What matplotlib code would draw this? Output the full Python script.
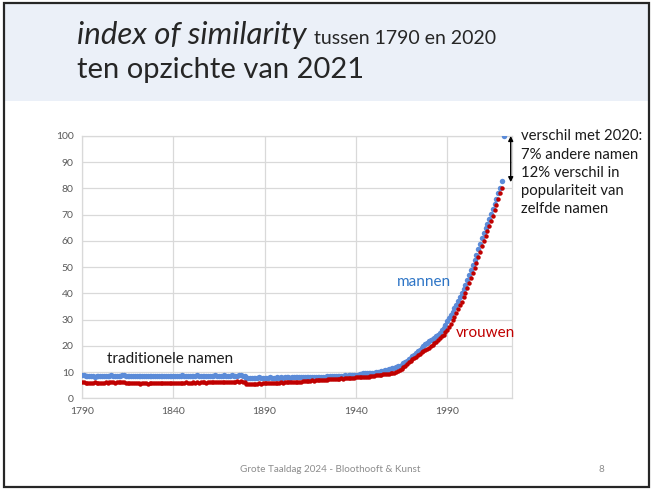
import numpy as np
import matplotlib
matplotlib.use("Agg")
import matplotlib.pyplot as plt
from matplotlib.patches import Rectangle

# index of similarity per year, relative to 2021
years_m = np.arange(1790, 2022)
mannen = [
    8.9, 8.7, 8.6, 8.5, 8.4, 8.5, 8.4, 8.3, 8.4, 8.5,
    8.4, 8.5, 8.6, 8.4, 8.5, 8.6, 8.7, 8.5, 8.6, 8.4,
    8.5, 8.6, 8.8, 8.7, 8.6, 8.5, 8.4, 8.5, 8.6, 8.5,
    8.4, 8.5, 8.6, 8.5, 8.4, 8.5, 8.6, 8.5, 8.4, 8.5,
    8.6, 8.5, 8.4, 8.5, 8.6, 8.5, 8.4, 8.5, 8.6, 8.5,
    8.4, 8.5, 8.6, 8.5, 8.6, 8.7, 8.5, 8.6, 8.5, 8.4,
    8.5, 8.6, 8.5, 8.7, 8.6, 8.5, 8.6, 8.5, 8.4, 8.5,
    8.6, 8.5, 8.6, 8.7, 8.5, 8.6, 8.5, 8.6, 8.7, 8.6,
    8.5, 8.6, 8.7, 8.6, 8.5, 8.6, 8.7, 8.8, 8.6, 8.5,
    7.9, 7.8, 7.9, 7.8, 7.9, 7.8, 7.9, 8.0, 7.9, 7.8,
    7.9, 7.8, 7.9, 8.0, 7.9, 7.8, 7.9, 8.0, 7.9, 8.0,
    7.9, 8.0, 8.1, 8.0, 7.9, 8.0, 8.1, 8.0, 8.1, 8.0,
    8.1, 8.0, 8.1, 8.2, 8.1, 8.2, 8.1, 8.2, 8.3, 8.2,
    8.2, 8.3, 8.2, 8.3, 8.4, 8.3, 8.4, 8.5, 8.4, 8.5,
    8.5, 8.6, 8.5, 8.6, 8.7, 8.6, 8.7, 8.8, 8.7, 8.8,
    8.9, 9.0, 9.1, 9.3, 9.5, 9.6, 9.5, 9.5, 9.6, 9.7,
    9.8, 9.9, 10.0, 10.1, 10.3, 10.4, 10.6, 10.8, 11.0, 11.2,
    11.5, 11.7, 11.9, 12.2, 12.5, 12.8, 13.3, 13.8, 14.3, 14.8,
    15.3, 16.0, 16.6, 17.2, 17.9, 18.5, 19.2, 19.9, 20.6, 21.2,
    21.7, 22.2, 22.7, 23.1, 23.6, 24.2, 25.0, 25.9, 26.9, 28.0,
    29.3, 30.5, 31.8, 33.0, 34.3, 35.6, 37.0, 38.5, 40.0, 41.6,
    43.3, 45.1, 47.0, 49.0, 50.8, 52.8, 54.8, 56.8, 58.9, 61.0,
    63.0, 64.8, 66.5, 68.3, 70.1, 72.0, 74.0, 76.0, 78.2, 80.3,
    82.7, 100.0,
]

years_v = np.arange(1790, 2021)
vrouwen = [
    6.3, 6.1, 6.0, 5.9, 6.0, 5.9, 6.0, 6.1, 6.0, 5.9,
    6.0, 5.9, 6.0, 6.1, 6.0, 6.1, 6.2, 6.1, 6.0, 6.1,
    6.2, 6.3, 6.2, 6.1, 6.0, 5.9, 5.8, 5.7, 5.8, 5.7,
    5.8, 5.7, 5.6, 5.7, 5.8, 5.7, 5.6, 5.7, 5.8, 5.7,
    5.8, 5.7, 5.8, 5.9, 5.8, 5.7, 5.8, 5.9, 5.8, 5.9,
    5.8, 5.9, 6.0, 5.9, 6.0, 5.9, 6.0, 6.1, 6.0, 5.9,
    6.0, 6.1, 6.0, 6.1, 6.0, 6.1, 6.2, 6.1, 6.0, 6.1,
    6.2, 6.1, 6.2, 6.1, 6.2, 6.3, 6.2, 6.1, 6.2, 6.3,
    6.2, 6.3, 6.4, 6.3, 6.4, 6.5, 6.4, 6.5, 6.4, 6.3,
    5.4, 5.5, 5.4, 5.5, 5.6, 5.5, 5.6, 5.7, 5.6, 5.7,
    5.8, 5.7, 5.8, 5.9, 5.8, 5.9, 6.0, 5.9, 6.0, 6.1,
    6.0, 6.1, 6.2, 6.1, 6.2, 6.3, 6.2, 6.3, 6.4, 6.3,
    6.4, 6.5, 6.6, 6.5, 6.6, 6.7, 6.8, 6.7, 6.8, 6.9,
    6.9, 7.0, 7.1, 7.0, 7.1, 7.2, 7.3, 7.2, 7.3, 7.4,
    7.4, 7.5, 7.6, 7.5, 7.6, 7.7, 7.8, 7.7, 7.8, 7.9,
    8.0, 8.1, 8.0, 8.1, 8.2, 8.1, 8.2, 8.3, 8.4, 8.5,
    8.6, 8.7, 8.8, 8.9, 9.0, 9.1, 9.2, 9.3, 9.4, 9.5,
    9.6, 9.8, 10.1, 10.4, 10.8, 11.2, 11.8, 12.4, 13.0, 13.7,
    14.4, 14.9, 15.4, 15.9, 16.5, 17.0, 17.5, 17.9, 18.4, 18.8,
    19.3, 19.9, 20.5, 21.0, 21.6, 22.2, 22.9, 23.6, 24.3, 25.1,
    26.0, 27.2, 28.4, 29.7, 31.1, 32.5, 33.9, 35.4, 36.9, 38.5,
    40.1, 42.0, 43.9, 45.8, 47.8, 49.7, 51.7, 53.7, 55.8, 57.9,
    59.9, 61.8, 63.7, 65.6, 67.5, 69.5, 71.6, 73.7, 75.9, 78.1,
    80.3,
]

x_ticks = [1790, 1840, 1890, 1940, 1990]
y_ticks = list(range(0, 101, 10))

plt.rcParams['font.family'] = ['Lato', 'DejaVu Sans']

W, H = 653, 490
fig = plt.figure(figsize=(W / 100, H / 100), dpi=100)
fig.patch.set_facecolor('white')

# slide title band and frame
fig.add_artist(Rectangle((5 / W, 1 - 101 / H), 643 / W, 97 / H, transform=fig.transFigure,
                         facecolor='#EBF0F8', edgecolor='none', zorder=0))
fig.add_artist(Rectangle((4 / W, 3 / H), 645 / W, 484 / H, transform=fig.transFigure,
                         facecolor='none', edgecolor='#262626', linewidth=1.6, zorder=5))

t1 = fig.text(77 / W, 1 - 44 / H, 'index of similarity', fontsize=22.5, style='italic',
              color='#262626', va='baseline')
fig.canvas.draw()
bb = t1.get_window_extent(fig.canvas.get_renderer())
fig.text((bb.x1 + 7) / W, 1 - 44 / H, 'tussen 1790 en 2020', fontsize=14, color='#262626',
         va='baseline')
fig.text(77 / W, 1 - 78 / H, 'ten opzichte van 2021', fontsize=21, color='#262626',
         va='baseline')

# chart
ax = fig.add_axes([82 / W, 1 - 398.3 / H, 430 / W, 262.3 / H])
ax.plot(years_m, mannen, 'o', color='#5B8BD8', markersize=3.9, markeredgewidth=0, zorder=3)
ax.plot(years_v, vrouwen, 'o', color='#C00000', markersize=3.2, markeredgewidth=0, zorder=3)

ax.set_xlim(1790, 2025.5)
ax.set_ylim(0, 100)
ax.set_xticks(x_ticks)
ax.set_yticks(y_ticks)
ax.grid(True, color='#D9D9D9', linewidth=0.9)
ax.set_axisbelow(True)
for s in ax.spines.values():
    s.set_color('#D9D9D9')
    s.set_linewidth(0.9)
ax.tick_params(length=0, labelsize=7.5, labelcolor='#595959', pad=6)

ax.text(1803.5, 15.0, 'traditionele namen', fontsize=11, color='#1a1a1a', va='center')
ax.text(1962.5, 44.5, 'mannen', fontsize=11, color='#2E75C6', va='center')
ax.text(1994.8, 24.8, 'vrouwen', fontsize=11, color='#C00000', va='center')

ax.annotate('', xy=(2024.8, 100), xytext=(2024.8, 82.4),
            arrowprops=dict(arrowstyle='<|-|>', color='black', lw=1.0,
                            mutation_scale=7, shrinkA=0, shrinkB=0),
            annotation_clip=False)
ax.text(1.02, 1.025, 'verschil met 2020:\n7% andere namen\n12% verschil in\npopulariteit van\nzelfde namen',
        transform=ax.transAxes, fontsize=10.7, color='#1a1a1a', va='top', ha='left',
        linespacing=1.38)

# footer
fig.text(330 / W, 1 - 469 / H, 'Grote Taaldag 2024 - Bloothooft & Kunst', fontsize=7.1,
         color='#8C8C8C', ha='center', va='center')
fig.text(601 / W, 1 - 469 / H, '8', fontsize=7.1, color='#8C8C8C', ha='center', va='center')

fig.savefig('out.png', dpi=100)
